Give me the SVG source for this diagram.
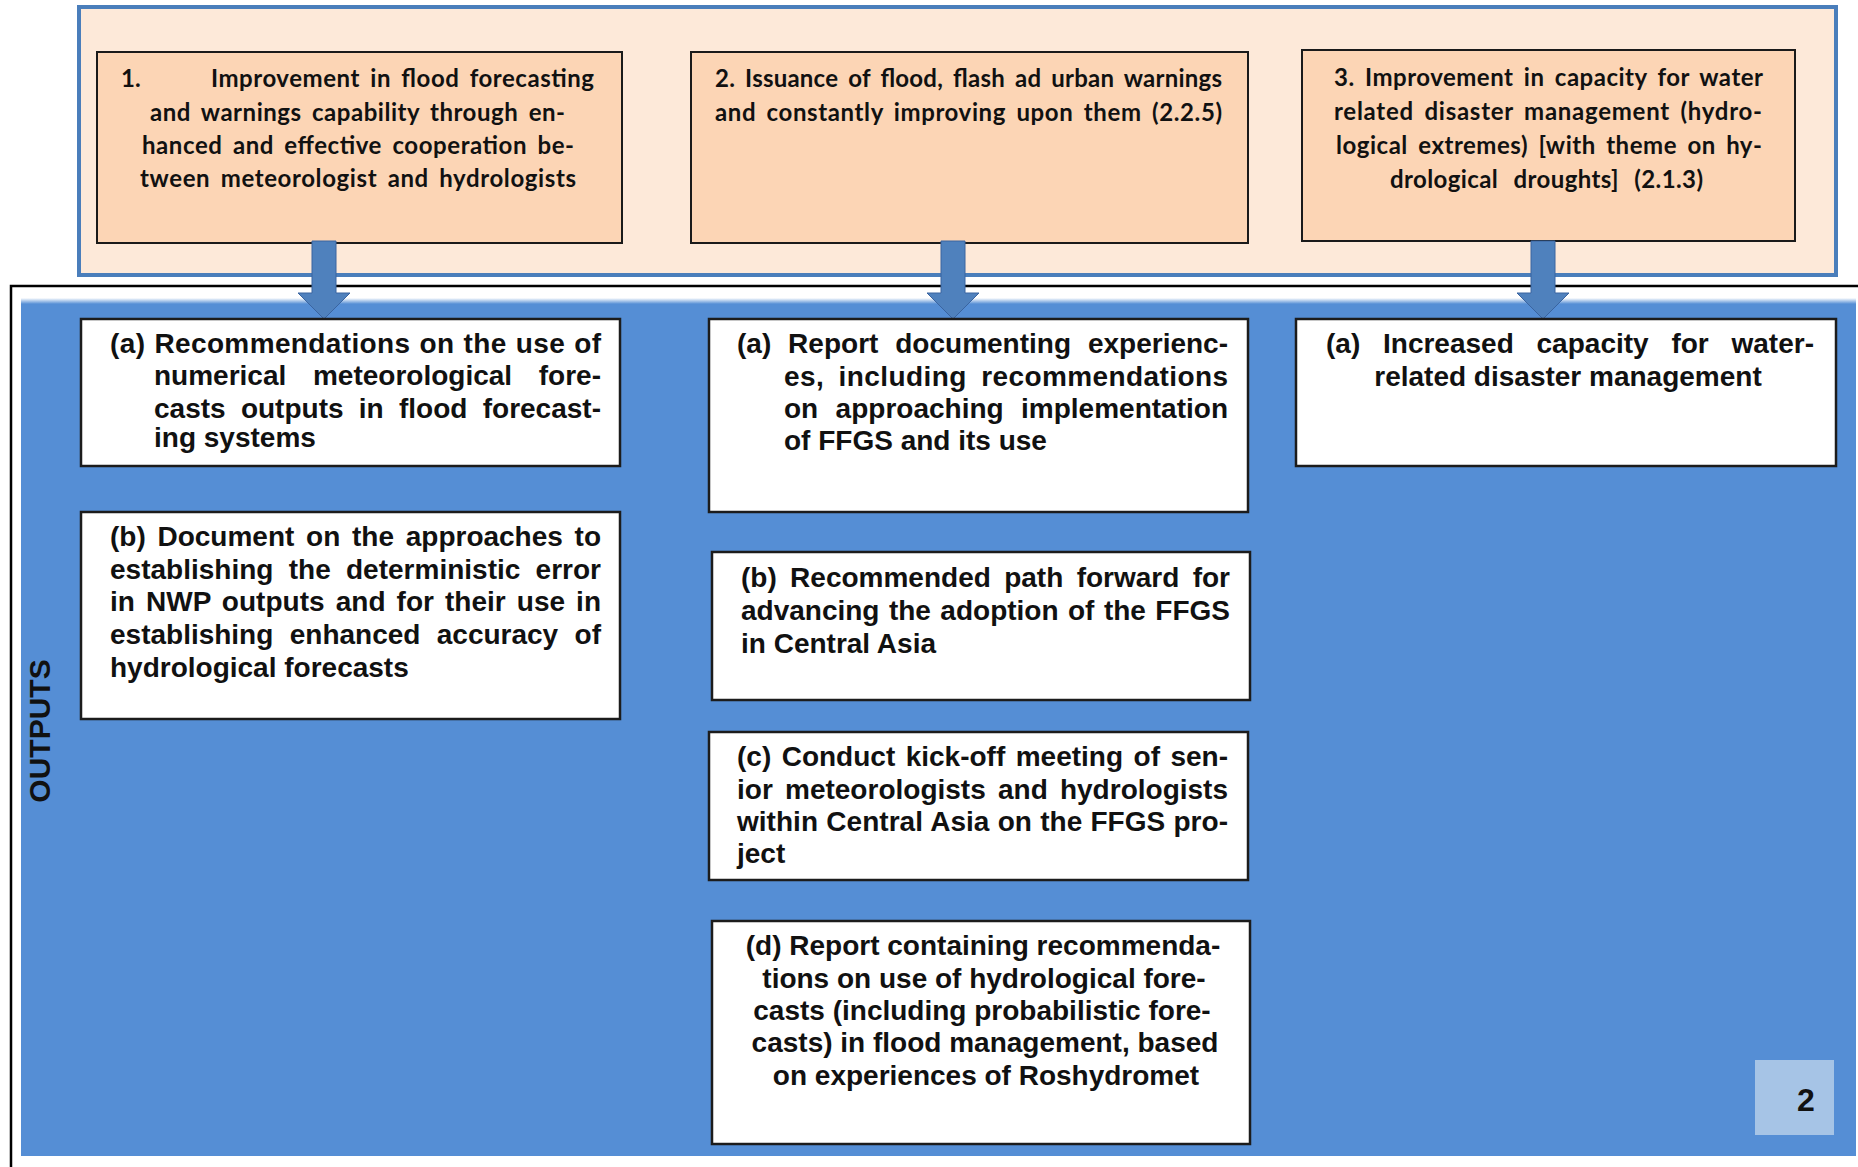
<svg xmlns="http://www.w3.org/2000/svg" width="1858" height="1167" viewBox="0 0 1858 1167">
<style>
.top{font-family:Lato,"Liberation Sans",sans-serif;font-weight:bold;font-size:24px;fill:#111;word-spacing:4px}
.t{font-family:"Liberation Sans",Arial,sans-serif;font-weight:bold;font-size:28px;fill:#111}
.c{text-anchor:middle}
.pbox{fill:#fcd5b5;stroke:#1a1a1a;stroke-width:2}
.wbox{fill:#fff;stroke:#1c1c1c;stroke-width:2.5}
.arrow{fill:#4f81bd;stroke:#3a64a0;stroke-width:1}
</style>
<defs>
<linearGradient id="edge" x1="0" y1="0" x2="0" y2="1">
<stop offset="0" stop-color="#ffffff"/>
<stop offset="1" stop-color="#558ed5"/>
</linearGradient>
</defs>
<rect x="0" y="0" width="1858" height="1167" fill="#fff"/>
<g id="goals-frame">
<rect x="79" y="7" width="1757" height="268" fill="#fde9d9" stroke="#4a7ebb" stroke-width="4"/>
</g>
<g id="outputs-frame">
<path d="M11 1167 V286 H1858" fill="none" stroke="#000" stroke-width="2.5"/>
<rect x="21" y="302" width="1835" height="854" fill="#558ed5"/>
<rect x="21" y="298" width="1835" height="6" fill="url(#edge)"/>
<text class="t" transform="translate(50,731) rotate(-90)" text-anchor="middle" style="font-size:30px">OUTPUTS</text>
</g>
<g id="goal1">
<rect class="pbox" x="97" y="52" width="525" height="191"/>
<text class="top" x="121" y="87">1.</text>
<text class="top" x="211" y="87" textLength="383" lengthAdjust="spacing">Improvement in flood forecasting</text>
<text class="top" x="150" y="121" textLength="415" lengthAdjust="spacing">and warnings capability through en-</text>
<text class="top" x="142" y="154" textLength="432" lengthAdjust="spacing">hanced and effective cooperation be-</text>
<text class="top" x="140" y="187" textLength="436" lengthAdjust="spacing">tween meteorologist and hydrologists</text>
</g>
<g id="goal2">
<rect class="pbox" x="691" y="52" width="557" height="191"/>
<text class="top" x="715" y="87" textLength="507" lengthAdjust="spacing">2. Issuance of flood, flash ad urban warnings</text>
<text class="top" x="715" y="121" textLength="507" lengthAdjust="spacing">and constantly improving upon them (2.2.5)</text>
</g>
<g id="goal3">
<rect class="pbox" x="1302" y="50" width="493" height="191"/>
<text class="top" x="1334" y="86" textLength="429" lengthAdjust="spacing">3. Improvement in capacity for water</text>
<text class="top" x="1334" y="120" textLength="428" lengthAdjust="spacing">related disaster management (hydro-</text>
<text class="top" x="1336" y="154" textLength="426" lengthAdjust="spacing">logical extremes) [with theme on hy-</text>
<text class="top" x="1390" y="188" textLength="313" lengthAdjust="spacing" style="word-spacing:9px">drological droughts] (2.1.3)</text>
</g>
<g id="connectors">
<polygon class="arrow" points="312,241 336,241 336,293 350,293 324,319 298,293 312,293"/>
<polygon class="arrow" points="941,241 965,241 965,293 979,293 953,319 927,293 941,293"/>
<polygon class="arrow" points="1531,241 1555,241 1555,293 1569,293 1543,319 1517,293 1531,293"/>
</g>
<g id="out1a">
<rect class="wbox" x="81" y="319" width="539" height="147"/>
<text class="t" x="110" y="353" textLength="491" lengthAdjust="spacing" style="word-spacing:0.9px">(a) Recommendations on the use of</text>
<text class="t" x="154" y="385" textLength="447" lengthAdjust="spacing" style="word-spacing:18.9px">numerical meteorological fore-</text>
<text class="t" x="154" y="418" textLength="447" lengthAdjust="spacing" style="word-spacing:7.5px">casts outputs in flood forecast-</text>
<text class="t" x="154" y="447">ing systems</text>
</g>
<g id="out1b">
<rect class="wbox" x="81" y="512" width="539" height="207"/>
<text class="t" x="110" y="546" textLength="491" lengthAdjust="spacing" style="word-spacing:4px">(b) Document on the approaches to</text>
<text class="t" x="110" y="579" textLength="491" lengthAdjust="spacing" style="word-spacing:7.5px">establishing the deterministic error</text>
<text class="t" x="110" y="611" textLength="491" lengthAdjust="spacing" style="word-spacing:3.2px">in NWP outputs and for their use in</text>
<text class="t" x="110" y="644" textLength="491" lengthAdjust="spacing" style="word-spacing:8.6px">establishing enhanced accuracy of</text>
<text class="t" x="110" y="677">hydrological forecasts</text>
</g>
<g id="out2a">
<rect class="wbox" x="709" y="319" width="539" height="193"/>
<text class="t" x="737" y="353" textLength="491" lengthAdjust="spacing" style="word-spacing:9.1px">(a) Report documenting experienc-</text>
<text class="t" x="784" y="386" textLength="444" lengthAdjust="spacing" style="word-spacing:6.3px">es, including recommendations</text>
<text class="t" x="784" y="418" textLength="444" lengthAdjust="spacing" style="word-spacing:9.6px">on approaching implementation</text>
<text class="t" x="784" y="450">of FFGS and its use</text>
</g>
<g id="out2b">
<rect class="wbox" x="712" y="552" width="538" height="148"/>
<text class="t" x="741" y="587" textLength="489" lengthAdjust="spacing" style="word-spacing:5.6px">(b) Recommended path forward for</text>
<text class="t" x="741" y="620" textLength="489" lengthAdjust="spacing" style="word-spacing:1.7px">advancing the adoption of the FFGS</text>
<text class="t" x="741" y="653">in Central Asia</text>
</g>
<g id="out2c">
<rect class="wbox" x="709" y="732" width="539" height="148"/>
<text class="t" x="737" y="766" textLength="491" lengthAdjust="spacing" style="word-spacing:2.7px">(c) Conduct kick-off meeting of sen-</text>
<text class="t" x="737" y="799" textLength="491" lengthAdjust="spacing" style="word-spacing:4.4px">ior meteorologists and hydrologists</text>
<text class="t" x="737" y="831" textLength="491" lengthAdjust="spacing" style="word-spacing:0.4px">within Central Asia on the FFGS pro-</text>
<text class="t" x="737" y="863">ject</text>
</g>
<g id="out2d">
<rect class="wbox" x="712" y="921" width="538" height="223"/>
<text class="t c" x="983" y="955">(d) Report containing recommenda-</text>
<text class="t c" x="984" y="988">tions on use of hydrological fore-</text>
<text class="t c" x="982" y="1020">casts (including probabilistic fore-</text>
<text class="t c" x="985" y="1052">casts) in flood management, based</text>
<text class="t c" x="986" y="1085">on experiences of Roshydromet</text>
</g>
<g id="out3a">
<rect class="wbox" x="1296" y="319" width="540" height="147"/>
<text class="t" x="1326" y="353" textLength="488" lengthAdjust="spacing" style="word-spacing:15px">(a) Increased capacity for water-</text>
<text class="t c" x="1568" y="386">related disaster management</text>
</g>
<g id="page-number">
<rect x="1755" y="1060" width="79" height="75" fill="#a6c4e6"/>
<text class="t c" x="1806" y="1111" style="font-size:32px">2</text>
</g>
</svg>
